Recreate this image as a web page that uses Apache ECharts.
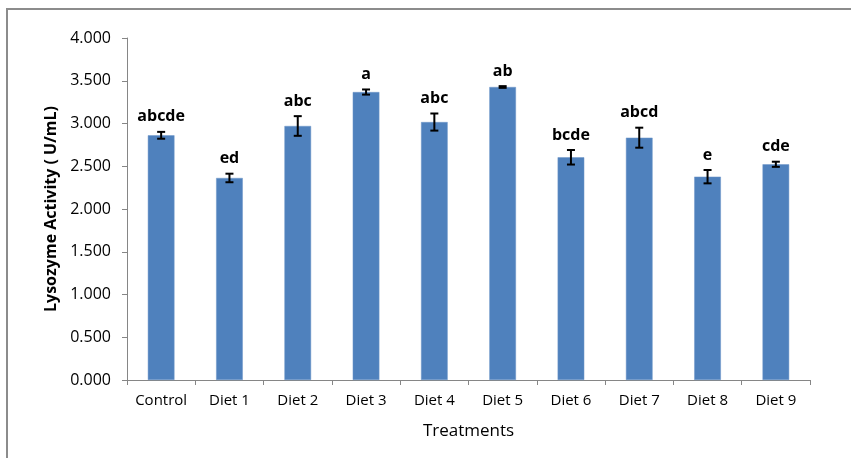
<!DOCTYPE html>
<html>
<head>
<meta charset="utf-8">
<style>
  html, body { margin: 0; padding: 0; background: #ffffff; }
  #chart { width: 851px; height: 458px; }
</style>
<script src="https://cdn.jsdelivr.net/npm/echarts@6/dist/echarts.min.js"></script>
</head>
<body>
<div id="chart"></div>
<script>
// Lysozyme activity per treatment, with standard error and significance letters
const treatments = ['Control', 'Diet 1', 'Diet 2', 'Diet 3', 'Diet 4', 'Diet 5', 'Diet 6', 'Diet 7', 'Diet 8', 'Diet 9'];
const activity = [2.862, 2.363, 2.971, 3.368, 3.017, 3.427, 2.605, 2.834, 2.378, 2.523];
const stdError = [0.040, 0.050, 0.115, 0.030, 0.100, 0.010, 0.085, 0.117, 0.078, 0.030];
const groups = ['abcde', 'ed', 'abc', 'a', 'abc', 'ab', 'bcde', 'abcd', 'e', 'cde'];
const yTicks = { min: 0, max: 4, interval: 0.5 };

const FONT = '"Open Sans", "Noto Sans", sans-serif';
const AXIS_GREY = '#868686';

const chart = echarts.init(document.getElementById('chart'), null, { renderer: 'canvas' });

// whisker + group letter drawn for each category
function renderWhisker(params, api) {
  const i = api.value(0);
  const mean = api.value(1);
  const err = api.value(2);
  const hi = api.coord([i, mean + err]);
  const lo = api.coord([i, mean - err]);
  const cap = 4;
  const style = { stroke: '#000000', lineWidth: 2 };
  return {
    type: 'group',
    children: [
      { type: 'line', shape: { x1: hi[0], y1: hi[1], x2: lo[0], y2: lo[1] }, style },
      { type: 'line', shape: { x1: hi[0] - cap, y1: hi[1], x2: hi[0] + cap, y2: hi[1] }, style },
      { type: 'line', shape: { x1: lo[0] - cap, y1: lo[1], x2: lo[0] + cap, y2: lo[1] }, style },
      {
        type: 'text',
        style: {
          x: hi[0], y: hi[1] - 15,
          text: groups[params.dataIndex],
          fill: '#000000',
          font: 'bold 16px ' + FONT,
          align: 'center', verticalAlign: 'middle'
        }
      }
    ]
  };
}

chart.setOption({
  animation: false,
  backgroundColor: '#ffffff',
  graphic: [{
    type: 'rect',
    shape: { x: 7, y: 9, width: 900, height: 500 },
    style: { fill: 'none', stroke: '#8c8c8c', lineWidth: 2 },
    silent: true
  }],
  grid: { left: 127, right: 41, top: 38, bottom: 78, containLabel: false },
  xAxis: {
    type: 'category',
    data: treatments,
    name: 'Treatments',
    nameLocation: 'middle',
    nameGap: 43,
    nameTextStyle: { fontFamily: FONT, fontSize: 17, color: '#000000' },
    axisLine: { lineStyle: { color: AXIS_GREY, width: 1 } },
    axisTick: { show: true, alignWithLabel: false, length: 5, lineStyle: { color: AXIS_GREY } },
    axisLabel: { fontFamily: FONT, fontSize: 15, color: '#000000', margin: 13 },
    splitLine: { show: false }
  },
  yAxis: {
    type: 'value',
    min: yTicks.min,
    max: yTicks.max,
    interval: yTicks.interval,
    name: 'Lysozyme Activity ( U/mL)',
    nameLocation: 'middle',
    nameGap: 68,
    nameRotate: 90,
    nameTextStyle: { fontFamily: FONT, fontSize: 16, fontWeight: 'bold', color: '#000000' },
    axisLine: { show: true, lineStyle: { color: AXIS_GREY, width: 1 } },
    axisTick: { show: true, length: 5, lineStyle: { color: AXIS_GREY } },
    axisLabel: {
      fontFamily: FONT, fontSize: 16, color: '#000000', margin: 16,
      formatter: v => v.toFixed(3)
    },
    splitLine: { show: false }
  },
  series: [
    {
      type: 'bar',
      data: activity,
      barWidth: '39%',
      itemStyle: { color: '#4F81BD', borderColor: '#6f97c9', borderWidth: 0.5 }
    },
    {
      type: 'custom',
      renderItem: renderWhisker,
      data: activity.map((v, i) => [i, v, stdError[i]]),
      encode: { x: 0, y: 1 },
      z: 5
    }
  ]
});
</script>
</body>
</html>
